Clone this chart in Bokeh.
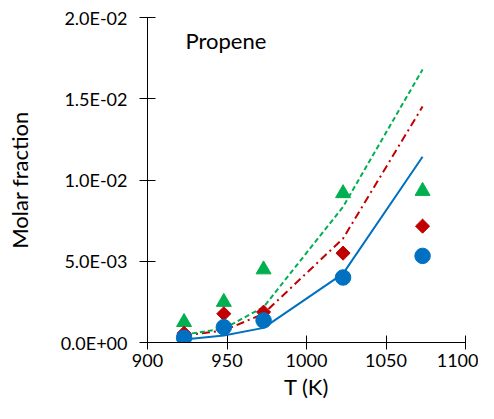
from bokeh.plotting import figure
from bokeh.models import Range1d, FixedTicker, CustomJSTickFormatter, Label
from bokeh.embed import file_html
from bokeh.resources import INLINE
import numpy as np

# Temperature (K)
temps = [923, 948, 973, 1023, 1073]

# Experimental points
exp_circle = [0.00029, 0.00094, 0.00136, 0.00400, 0.00533]
exp_diamond = [0.00057, 0.00177, 0.00187, 0.00550, 0.00716]
exp_triangle = [0.00125, 0.00249, 0.00449, 0.00918, 0.00932]

# Model curves
model_solid = [0.00019, 0.00043, 0.00090, 0.00424, 0.01143]
model_dashdot = [0.00043, 0.00074, 0.00177, 0.00640, 0.01452]
model_dashed = [0.00049, 0.00085, 0.00218, 0.00835, 0.01680]

x_ticks = [900, 950, 1000, 1050, 1100]
y_ticks = [0.0, 0.005, 0.010, 0.015, 0.020]

BLUE = "#0070C0"
RED = "#C00000"
GREEN = "#00B050"
FONT = "Lato"

p = figure(width=478, height=403, output_backend="svg", toolbar_location=None,
           x_range=Range1d(900, 1100), y_range=Range1d(0, 0.02),
           min_border_left=147, min_border_right=13, min_border_top=17,
           min_border_bottom=61)
p.outline_line_color = None
p.xgrid.visible = False
p.ygrid.visible = False
p.background_fill_color = "white"
p.border_fill_color = "white"

p.line(temps, model_solid, line_color=BLUE, line_width=2)
p.line(temps, model_dashdot, line_color=RED, line_width=2, line_dash="8 4 2 4")
p.line(temps, model_dashed, line_color=GREEN, line_width=2, line_dash="5 3")

p.scatter(temps, exp_triangle, marker="triangle", size=15, fill_color=GREEN, line_color=GREEN)
p.scatter(temps, exp_diamond, marker="square", angle=np.pi / 4, size=10,
          fill_color=RED, line_color=RED)
p.scatter(temps, exp_circle, marker="circle", size=15.5, fill_color=BLUE, line_color=BLUE)

for ax in (p.xaxis[0], p.yaxis[0]):
    ax.axis_line_color = "black"
    ax.axis_line_width = 1
    ax.major_tick_line_color = "black"
    ax.major_tick_in = 8
    ax.major_tick_out = 8
    ax.minor_tick_line_color = None
    ax.major_label_text_font = FONT
    ax.major_label_text_font_size = "18px"
    ax.major_label_text_color = "black"
    ax.axis_label_text_font = FONT
    ax.axis_label_text_font_size = "22px"
    ax.axis_label_text_font_style = "normal"
    ax.axis_label_text_color = "black"

p.xaxis.major_tick_in = 7
p.xaxis.major_tick_out = 7
p.xaxis.ticker = FixedTicker(ticks=x_ticks)
p.yaxis.ticker = FixedTicker(ticks=y_ticks)
p.xaxis.axis_label = "T (K)"
p.yaxis.axis_label = "Molar fraction"
p.xaxis.major_label_standoff = 4
p.yaxis.major_label_standoff = 12
p.xaxis.axis_label_standoff = 3
p.yaxis.axis_label_standoff = 25

p.yaxis.formatter = CustomJSTickFormatter(code="""
    const s = tick.toExponential(1).toUpperCase();
    const parts = s.split('E');
    let e = parts[1];
    const sign = e[0];
    let d = e.slice(1);
    if (d.length < 2) { d = '0' + d; }
    return parts[0] + 'E' + sign + d;
""")

p.add_layout(Label(x=38, y=302, x_units="screen", y_units="screen", text="Propene",
                   text_font=FONT, text_font_size="22px", text_color="black",
                   text_baseline="alphabetic"))

open("out.html", "w").write(file_html(p, INLINE))
